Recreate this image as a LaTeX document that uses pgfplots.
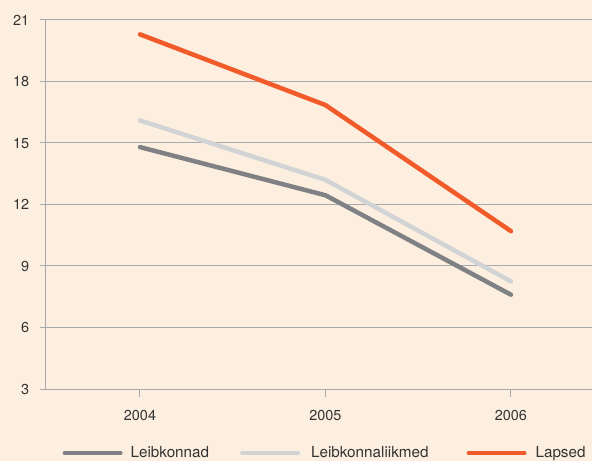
\documentclass[border=0pt]{standalone}
\usepackage{pgfplots}
\pgfplotsset{compat=1.18}
\usepackage{fontspec}
\setmainfont{TeX Gyre Heros}
\definecolor{bgpeach}{HTML}{FDEFE0}
\definecolor{gridgray}{HTML}{A7A9AC}
\definecolor{darkgray}{HTML}{808184}
\definecolor{lightgray}{HTML}{D1D3D4}
\definecolor{orangered}{HTML}{F15A29}
\begin{document}
\begin{tikzpicture}
\fill[bgpeach] (0,0) rectangle (592bp,461bp);
\useasboundingbox (0,0) rectangle (592bp,461bp);
\begin{axis}[
  at={(45bp,72bp)}, anchor=south west,
  scale only axis,
  width=560bp, height=369bp,
  xmin=-0.512, xmax=2.507,
  ymin=3, ymax=21,
  xtick={0,1,2},
  xticklabels={2004,2005,2006},
  ytick={3,6,...,21},
  axis x line*=bottom,
  axis y line*=left,
  axis line style={draw=gridgray, line width=1bp, -},
  ymajorgrids,
  grid style={draw=gridgray, line width=1bp},
  tick align=outside,
  xtick style={draw=gridgray, line width=1bp, /pgfplots/major tick length=8bp},
  ytick style={draw=gridgray, line width=1bp, /pgfplots/major tick length=5bp},
  tick label style={font=\fontsize{14.5}{16}\selectfont, text=black!80},
  x tick label style={yshift=-13bp},
  y tick label style={xshift=-8bp},
  /pgf/number format/assume math mode=true,
  legend columns=-1,
  legend style={at={(axis description cs:0.0311,-0.1734)}, anchor=west,
    draw=none, fill=none, inner sep=0pt,
    nodes={inner sep=0pt},
    font=\fontsize{15.3}{17}\selectfont, text=black!80,
    /tikz/column 1/.style={column sep=8bp},
    /tikz/column 2/.style={column sep=31bp},
    /tikz/column 3/.style={column sep=11bp},
    /tikz/column 4/.style={column sep=38bp},
    /tikz/column 5/.style={column sep=9bp}},
  legend image code/.code={\draw[#1] (2.25bp,0bp) -- (57.75bp,0bp);},
  every axis plot/.append style={line width=4.5bp, line cap=round, line join=round},
]
\draw[gridgray, line width=1bp] (rel axis cs:0,0) -- ++(0,-8bp);
\addplot[darkgray] coordinates {(0,14.8) (1,12.45) (2,7.6)};
\addplot[lightgray] coordinates {(0,16.1) (1,13.2) (2,8.25)};
\addplot[orangered] coordinates {(0,20.3) (1,16.85) (2,10.7)};
\legend{Leibkonnad, Leibkonnaliikmed, Lapsed}
\end{axis}
\end{tikzpicture}
\end{document}
